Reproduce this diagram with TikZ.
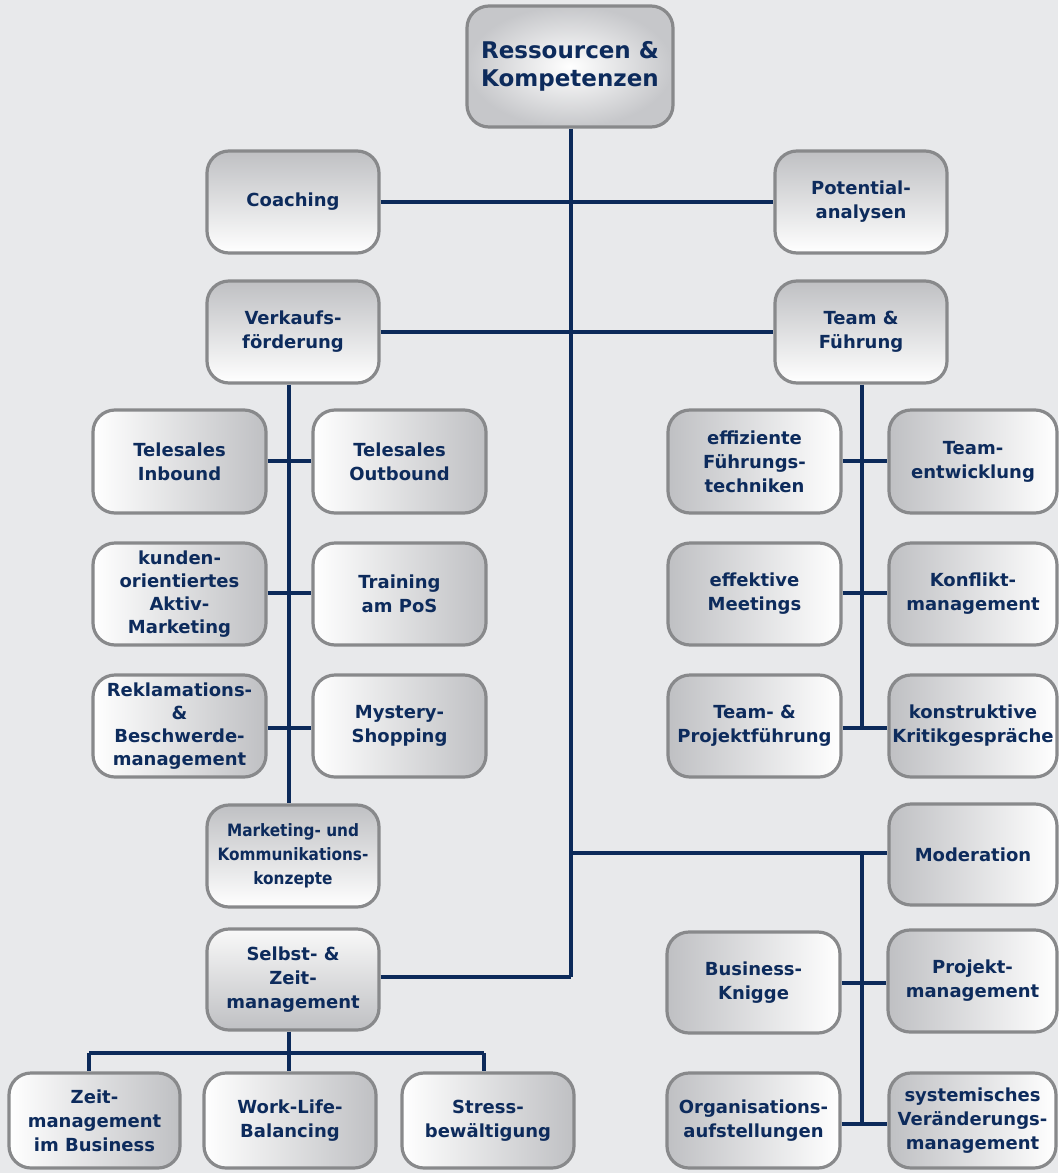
\documentclass[tikz,border=0pt]{standalone}
\usepackage{fontspec}
\setmainfont{DejaVu Sans}
\newfontfamily\condfont{DejaVu Sans Condensed}
\definecolor{bg}{HTML}{E8E9EB}
\definecolor{txt}{HTML}{0D2B5C}
\definecolor{ln}{HTML}{0C2A5A}
\definecolor{bd}{HTML}{88898B}
\definecolor{gr}{HTML}{BFC0C3}
\definecolor{gr2}{HTML}{C6C7CA}
\begin{document}
\begin{tikzpicture}[x=1pt,y=-1pt,
  box/.style={rectangle,rounded corners=22pt,draw=bd,line width=3.2pt,
    minimum width=172pt,minimum height=102pt,inner sep=2pt,align=center,
    text=txt,font=\fontsize{18}{24}\selectfont\bfseries},
  tb/.style={top color=gr,bottom color=white},
  bt/.style={top color=white!95!gray,bottom color=gr},
  lr/.style={left color=white,right color=gr},
  rl/.style={left color=gr,right color=white},
  conn/.style={draw=ln,line width=3.2pt}]
\fill[bg] (0,0) rectangle (1058,1173);
\useasboundingbox (0,0) rectangle (1058,1173);

\node[box,minimum width=206pt,minimum height=121pt,inner color=white,outer color=gr2,
  font=\fontsize{23}{28}\selectfont\bfseries] (root) at (570,66.5) {Ressourcen \&\\Kompetenzen};

\node[box,tb] (coach) at (293,202) {Coaching};
\node[box,tb] (pot) at (861,202) {Potential-\\analysen};
\node[box,tb] (verk) at (293,332) {Verkaufs-\\förderung};
\node[box,tb] (team) at (861,332) {Team \&\\Führung};

\node[box,lr,minimum width=173pt,minimum height=103pt] (tin) at (179.5,461.5) {Telesales\\Inbound};
\node[box,lr,minimum width=173pt,minimum height=103pt] (tout) at (399.5,461.5) {Telesales\\Outbound};
\node[box,lr,minimum width=173pt,font=\fontsize{18}{23}\selectfont\bfseries] (kund) at (179.5,594) {kunden-\\orientiertes\\Aktiv-\\Marketing};
\node[box,lr,minimum width=173pt] (train) at (399.5,594) {Training\\am PoS};
\node[box,lr,minimum width=173pt,font=\fontsize{18}{23}\selectfont\bfseries] (rekl) at (179.5,726) {Reklamations-\\\&\\Beschwerde-\\management};
\node[box,lr,minimum width=173pt] (myst) at (399.5,726) {Mystery-\\Shopping};
\node[box,tb,font=\fontsize{17}{24}\selectfont\condfont\bfseries] (mark) at (293,856) {Marketing- und\\Kommunikations-\\konzepte};

\node[box,rl,minimum width=173pt,minimum height=103pt] (eff) at (754.5,461.5) {effiziente\\Führungs-\\techniken};
\node[box,rl,minimum width=168pt,minimum height=103pt] (tent) at (973,461.5) {Team-\\entwicklung};
\node[box,rl,minimum width=173pt] (meet) at (754.5,594) {effektive\\Meetings};
\node[box,rl,minimum width=168pt] (konf) at (973,594) {Konflikt-\\management};
\node[box,rl,minimum width=173pt] (tpf) at (754.5,726) {Team- \&\\Projektführung};
\node[box,rl,minimum width=168pt] (konst) at (973,726) {konstruktive\\Kritikgespräche};
\node[box,rl,minimum width=168pt,minimum height=101pt] (mod) at (973,854.5) {Moderation};
\node[box,rl,minimum width=173pt,minimum height=101pt] (knig) at (753.5,982.5) {Business-\\Knigge};
\node[box,rl,minimum width=169pt] (proj) at (972.5,981) {Projekt-\\management};
\node[box,rl,minimum width=173pt,minimum height=95pt] (org) at (753.5,1120.5) {Organisations-\\aufstellungen};
\node[box,rl,minimum width=167pt,minimum height=95pt] (syst) at (972.5,1120.5) {systemisches\\Veränderungs-\\management};

\node[box,bt,minimum height=101pt] (selbst) at (293,979.5) {Selbst- \&\\Zeit-\\management};
\node[box,lr,minimum width=171pt,minimum height=95pt] (zeit) at (94.5,1120.5) {Zeit-\\management\\im Business};
\node[box,lr,minimum height=95pt] (work) at (290,1120.5) {Work-Life-\\Balancing};
\node[box,lr,minimum height=95pt] (stress) at (488,1120.5) {Stress-\\bewältigung};

% helper coordinates
\coordinate (mx) at (571,0);
\coordinate (lx) at (289,0);
\coordinate (rx) at (862,0);
\coordinate (mend) at (571,977);
\coordinate (modj) at (571,853);
\coordinate (rend) at (862,728);
\coordinate (bj) at (289,1053);
\coordinate (bl) at (89,1053);
\coordinate (br) at (484,1053);

\draw[conn] (root.south -| mx) -- (mend);
\draw[conn] (coach.east) -- (pot.west);
\draw[conn] (verk.east) -- (team.west);
\draw[conn] (selbst.east |- mend) -- (mend);
\draw[conn] (modj) -- (mod.west |- modj);

\draw[conn] (verk.south -| lx) -- (mark.north -| lx);
\draw[conn] (tin.east |- 0,461) -- (tout.west |- 0,461);
\draw[conn] (kund.east |- 0,593) -- (train.west |- 0,593);
\draw[conn] (rekl.east |- 0,728) -- (myst.west |- 0,728);

\draw[conn] (team.south -| rx) -- (rend);
\draw[conn] (eff.east |- 0,461) -- (tent.west |- 0,461);
\draw[conn] (meet.east |- 0,593) -- (konf.west |- 0,593);
\draw[conn] (tpf.east |- rend) -- (konst.west |- rend);

\draw[conn] (modj -| rx) -- (rx |- 0,1124);
\draw[conn] (knig.east |- 0,983) -- (proj.west |- 0,983);
\draw[conn] (org.east |- 0,1124) -- (syst.west |- 0,1124);

\draw[conn] (selbst.south -| lx) -- (bj);
\draw[conn] (bl) -- (br);
\draw[conn] (bl) -- (zeit.north -| bl);
\draw[conn] (bj) -- (work.north -| bj);
\draw[conn] (br) -- (stress.north -| br);
\end{tikzpicture}
\end{document}
